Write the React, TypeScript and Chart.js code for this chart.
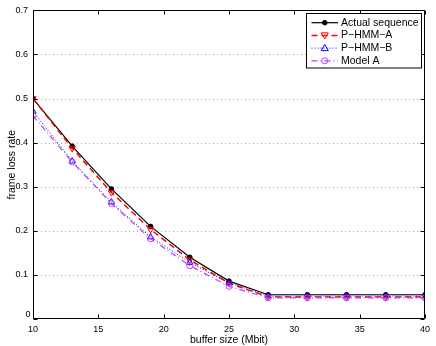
import React, { useEffect, useRef } from "react";
import { Chart, registerables } from "chart.js";

Chart.register(...registerables);

const bufferSizes = [10, 13, 16, 19, 22, 25, 28, 31, 34, 37, 40];
const actualSeq = [0.5, 0.392, 0.295, 0.21, 0.14, 0.086, 0.055, 0.055, 0.055, 0.055, 0.055];
const pHmmA = [0.5, 0.387, 0.287, 0.203, 0.134, 0.081, 0.05, 0.05, 0.05, 0.05, 0.05];
const pHmmB = [0.471, 0.358, 0.265, 0.186, 0.128, 0.082, 0.052, 0.052, 0.052, 0.052, 0.052];
const modelA = [0.461, 0.356, 0.262, 0.182, 0.121, 0.074, 0.048, 0.048, 0.048, 0.048, 0.048];
const xTicks = [10, 15, 20, 25, 30, 35, 40];
const yTicks = [0, 0.1, 0.2, 0.3, 0.4, 0.5, 0.6, 0.7];
const seriesNames = ["Actual sequence", "P\u2212HMM\u2212A", "P\u2212HMM\u2212B", "Model A"];

const FONT = "'Liberation Sans', Arial, Helvetica, sans-serif";

type Style = { color: string; dash: number[]; width: number; marker: string; r: number; fill: boolean };
const styles: Style[] = [
  { color: "#000000", dash: [], width: 1.2, marker: "circle", r: 2.3, fill: true },
  { color: "#ff0000", dash: [6, 4], width: 1.5, marker: "tridown", r: 3.6, fill: false },
  { color: "#0000ff", dash: [1, 2], width: 1, marker: "triup", r: 3.6, fill: false },
  { color: "#bf3fff", dash: [6, 3, 1, 3], width: 1.2, marker: "circle", r: 3, fill: false },
];

function drawMarker(ctx: CanvasRenderingContext2D, s: Style, x: number, y: number) {
  ctx.save();
  ctx.setLineDash([]);
  ctx.lineWidth = 1;
  ctx.strokeStyle = s.color;
  ctx.fillStyle = s.color;
  ctx.beginPath();
  if (s.marker === "circle") {
    ctx.arc(x, y, s.r, 0, Math.PI * 2);
  } else if (s.marker === "tridown") {
    ctx.moveTo(x - s.r, y - s.r * 0.7);
    ctx.lineTo(x + s.r, y - s.r * 0.7);
    ctx.lineTo(x, y + s.r);
    ctx.closePath();
  } else {
    ctx.moveTo(x - s.r, y + s.r * 0.7);
    ctx.lineTo(x + s.r, y + s.r * 0.7);
    ctx.lineTo(x, y - s.r);
    ctx.closePath();
  }
  if (s.fill) ctx.fill();
  ctx.stroke();
  ctx.restore();
}

const framePlugin = {
  id: "matlabFrame",
  beforeDatasetsDraw(chart: any) {
    const { ctx, chartArea: a, scales } = chart;
    ctx.save();
    ctx.strokeStyle = "#a8a8a8";
    ctx.lineWidth = 1;
    ctx.setLineDash([1, 3]);
    for (const v of yTicks) {
      if (v === 0 || v === 0.7) continue;
      const y = Math.round(scales.y.getPixelForValue(v)) + 0.5;
      ctx.beginPath();
      ctx.moveTo(a.left, y);
      ctx.lineTo(a.right, y);
      ctx.stroke();
    }
    ctx.restore();
  },
  afterDatasetsDraw(chart: any) {
    const { ctx, chartArea: a, scales } = chart;
    ctx.save();
    ctx.strokeStyle = "#000";
    ctx.lineWidth = 1;
    ctx.setLineDash([]);
    const L = Math.round(a.left) + 0.5, R = Math.round(a.right) - 0.5;
    const T = Math.round(a.top) + 0.5, B = Math.round(a.bottom) - 0.5;
    ctx.beginPath();
    ctx.rect(L, T, R - L, B - T);
    ctx.stroke();
    ctx.beginPath();
    for (const v of xTicks) {
      const x = Math.round(scales.x.getPixelForValue(v)) + 0.5;
      ctx.moveTo(x, B); ctx.lineTo(x, B - 4);
      ctx.moveTo(x, T); ctx.lineTo(x, T + 4);
    }
    for (const v of yTicks) {
      const y = Math.round(scales.y.getPixelForValue(v)) + 0.5;
      ctx.moveTo(L, y); ctx.lineTo(L + 4, y);
      ctx.moveTo(R, y); ctx.lineTo(R - 4, y);
    }
    ctx.stroke();

    // zero label of the y axis, raised as in the original
    ctx.fillStyle = "#000";
    ctx.font = `9px ${FONT}`;
    ctx.textAlign = "right";
    ctx.textBaseline = "middle";
    ctx.fillText("0", L - 3, scales.y.getPixelForValue(0) - 4);

    // legend
    const lx = 306.5, ly = 13.5, lw = 115, lh = 54.5;
    ctx.fillStyle = "#fff";
    ctx.fillRect(lx, ly, lw, lh);
    ctx.strokeRect(lx, ly, lw, lh);
    ctx.font = `10.5px ${FONT}`;
    ctx.textAlign = "left";
    ctx.textBaseline = "middle";
    seriesNames.forEach((name, i) => {
      const s = styles[i];
      const yy = ly + 9.2 + i * 12.7;
      const x0 = lx + 5, x1 = lx + 31.5;
      ctx.save();
      ctx.strokeStyle = s.color;
      ctx.lineWidth = s.width;
      ctx.setLineDash(s.dash);
      ctx.beginPath();
      ctx.moveTo(x0, yy);
      ctx.lineTo(x1, yy);
      ctx.stroke();
      ctx.restore();
      drawMarker(ctx, s, (x0 + x1) / 2, yy);
      ctx.fillStyle = "#000";
      ctx.fillText(name, lx + 34.5, yy);
    });
    ctx.restore();
  },
};

export default function App() {
  const ref = useRef<HTMLCanvasElement | null>(null);
  useEffect(() => {
    if (!ref.current) return;
    const series = [actualSeq, pHmmA, pHmmB, modelA];
    const datasets = series.map((vals, i) => {
      const s = styles[i];
      return {
        label: seriesNames[i],
        data: bufferSizes.map((x, j) => ({ x, y: vals[j] })),
        borderColor: s.color,
        backgroundColor: s.fill ? s.color : "rgba(0,0,0,0)",
        borderWidth: s.width,
        borderDash: s.dash,
        pointStyle: s.marker === "circle" ? "circle" : "triangle",
        rotation: s.marker === "tridown" ? 180 : 0,
        pointRadius: s.r,
        pointBorderWidth: 1,
        pointBorderColor: s.color,
        pointBackgroundColor: s.fill ? s.color : "rgba(0,0,0,0)",
        tension: 0,
        order: 3 - i,
      };
    });
    const chart = new Chart(ref.current, {
      type: "line",
      data: { datasets },
      options: {
        animation: false,
        responsive: false,
        maintainAspectRatio: false,
        layout: { padding: { top: 10, right: 11, left: 0, bottom: 0 } },
        plugins: { legend: { display: false }, tooltip: { enabled: false } },
        scales: {
          x: {
            type: "linear",
            min: 10,
            max: 40,
            afterBuildTicks: (sc: any) => { sc.ticks = xTicks.map((v) => ({ value: v })); },
            afterFit: (sc: any) => { sc.height = 27; },
            grid: { display: false, drawTicks: false },
            border: { display: false },
            ticks: { color: "#000", font: { family: FONT, size: 9 }, padding: 5, maxRotation: 0 },
            title: { display: true, text: "buffer size (Mbit)", color: "#000", font: { family: FONT, size: 10.5 }, padding: { top: 0, bottom: 0 } },
          },
          y: {
            type: "linear",
            min: 0,
            max: 0.7,
            afterBuildTicks: (sc: any) => { sc.ticks = yTicks.map((v) => ({ value: v })); },
            afterFit: (sc: any) => { sc.width = 33; },
            grid: { display: false, drawTicks: false },
            border: { display: false },
            ticks: { color: "#000", font: { family: FONT, size: 9 }, padding: 5, callback: (v: any) => (v === 0 ? "" : String(Math.round(v * 10) / 10)) },
            title: { display: true, text: "frame loss rate", color: "#000", font: { family: FONT, size: 10.5 }, padding: { top: 6, bottom: 0 } },
          },
        },
      },
      plugins: [framePlugin],
    });
    return () => chart.destroy();
  }, []);
  return (
    <div style={{ position: "fixed", left: 0, top: 0, width: 436, height: 346, background: "#fff" }}>
      <canvas ref={ref} width={436} height={346} style={{ width: 436, height: 346 }} />
    </div>
  );
}
